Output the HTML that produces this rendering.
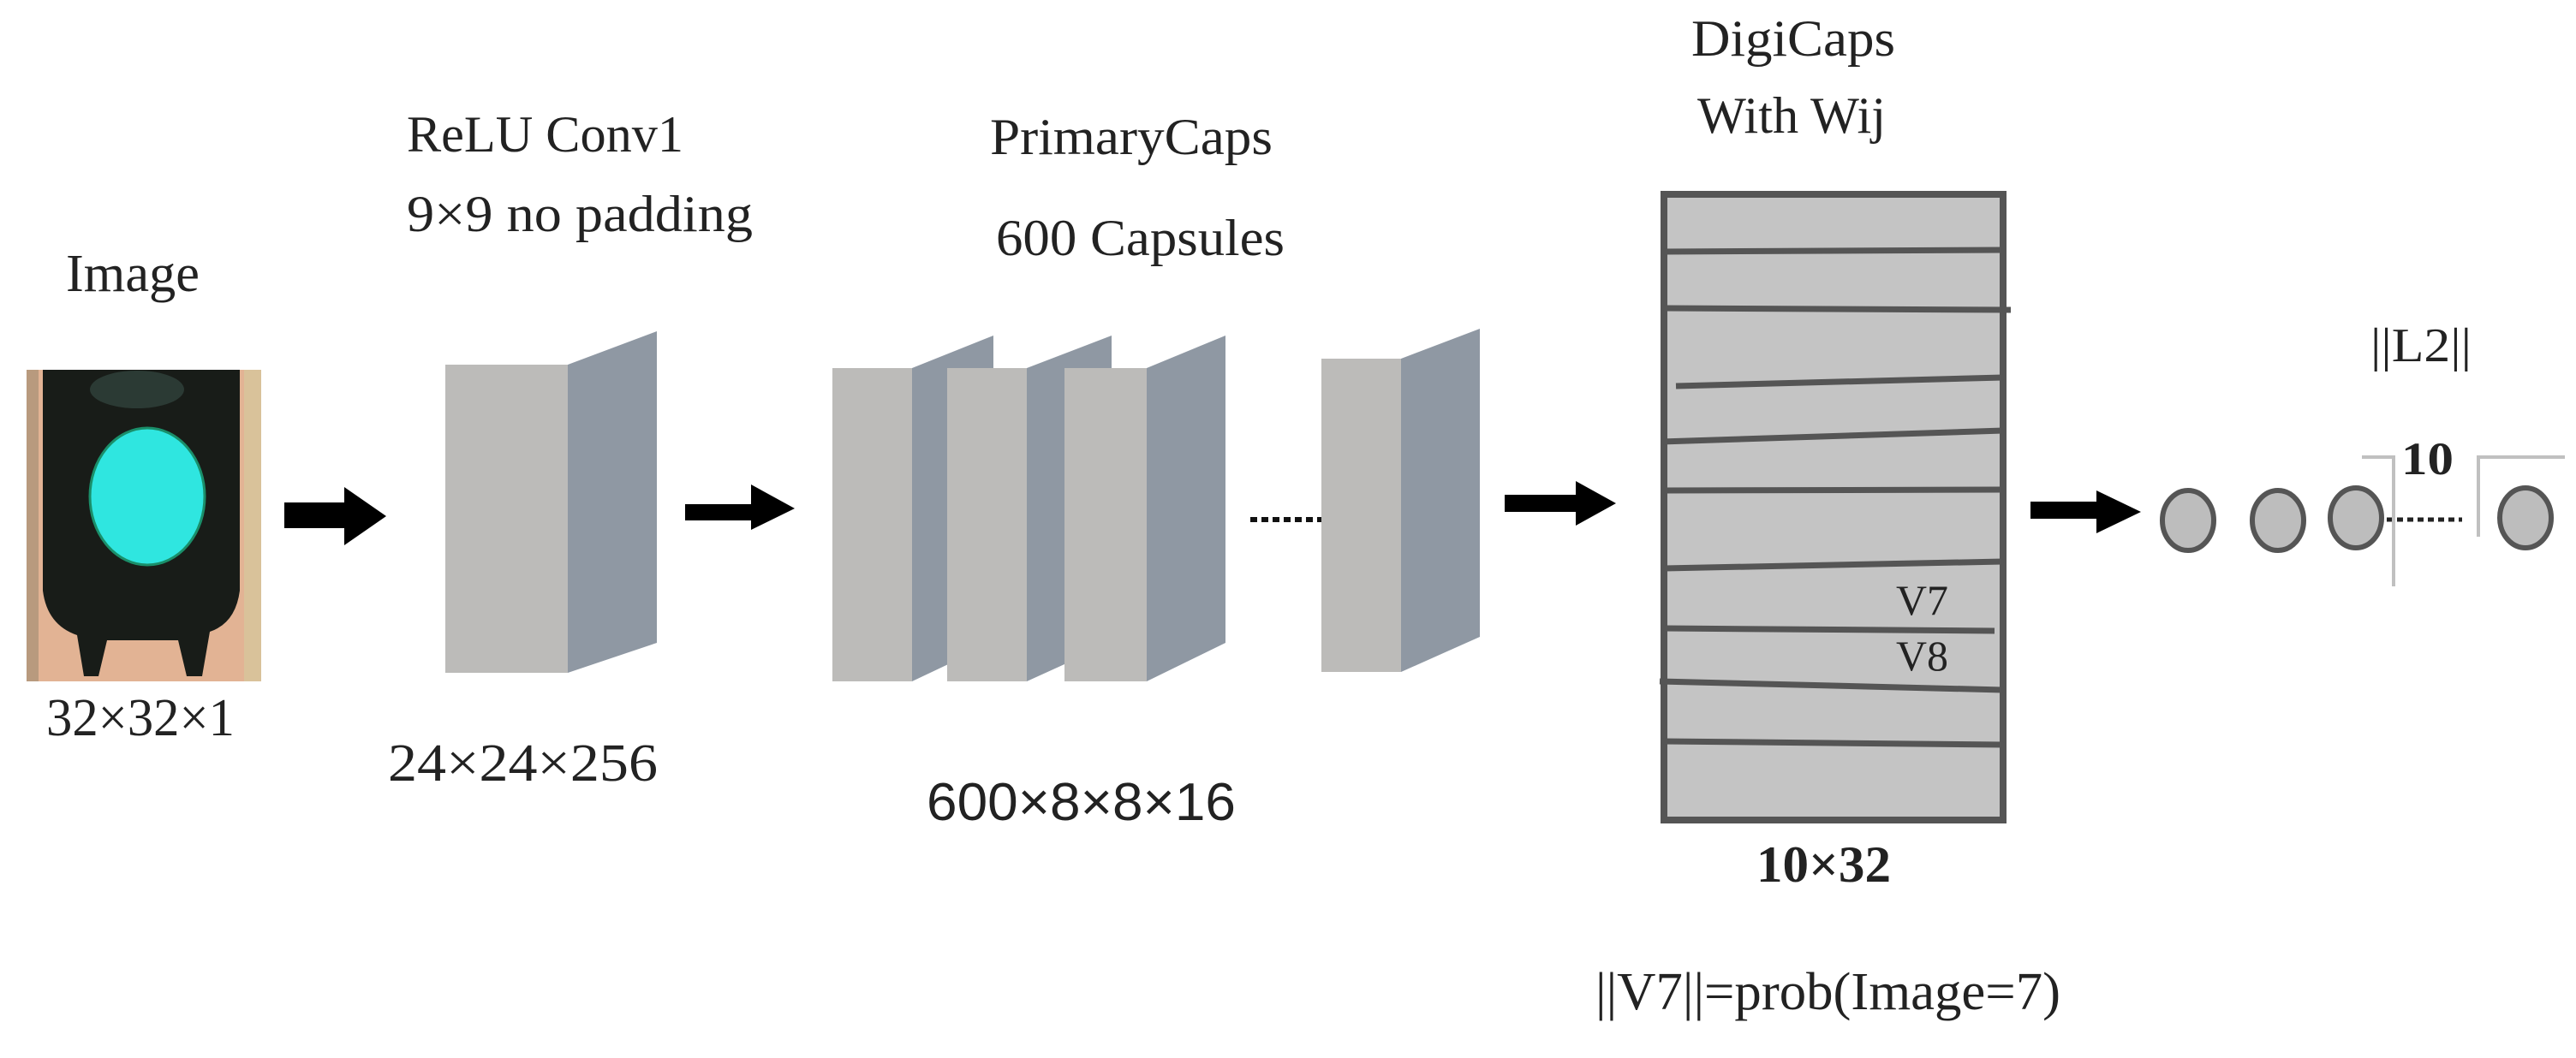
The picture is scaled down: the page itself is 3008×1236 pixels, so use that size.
<!DOCTYPE html>
<html><head><meta charset="utf-8"><style>
html,body{margin:0;padding:0;background:#fff;}
svg{display:block;}
text{font-family:"Liberation Serif",serif;fill:#222;}
</style></head><body>
<svg width="3008" height="1236" viewBox="0 0 3008 1236" xmlns="http://www.w3.org/2000/svg">
<rect width="3008" height="1236" fill="#fff"/>

<!-- Traffic light image -->
<rect x="31" y="432" width="274" height="364" fill="#e2b394"/>
<rect x="31" y="432" width="14" height="364" fill="#b89a7e"/>
<rect x="285" y="432" width="20" height="364" fill="#d9c29a"/>
<path d="M50 432 H280 V690 Q275 728 245 738 L236 790 H218 L208 748 H125 L115 790 H98 L90 742 Q55 730 50 690 Z" fill="#181c18"/>
<ellipse cx="160" cy="455" rx="55" ry="22" fill="#2b3a34"/>
<ellipse cx="172" cy="580" rx="67" ry="80" fill="#2fe6e0"/>
<ellipse cx="172" cy="580" rx="67" ry="80" fill="none" stroke="#1a8f6a" stroke-width="3"/>

<!-- labels -->
<text x="77" y="340" font-size="62" textLength="156" lengthAdjust="spacingAndGlyphs">Image</text>
<text x="54" y="859" font-size="62" textLength="220" lengthAdjust="spacingAndGlyphs">32×32×1</text>
<text x="475" y="177" font-size="60" textLength="323" lengthAdjust="spacingAndGlyphs">ReLU Conv1</text>
<text x="475" y="270" font-size="60" textLength="404" lengthAdjust="spacingAndGlyphs">9×9 no padding</text>
<text x="453" y="912" font-size="62" textLength="315" lengthAdjust="spacingAndGlyphs">24×24×256</text>
<text x="1156" y="180" font-size="60" textLength="330" lengthAdjust="spacingAndGlyphs">PrimaryCaps</text>
<text x="1163" y="298" font-size="60" textLength="337" lengthAdjust="spacingAndGlyphs">600 Capsules</text>
<text x="1082" y="958" font-size="62" style="font-family:'Liberation Sans',sans-serif" textLength="361" lengthAdjust="spacingAndGlyphs">600×8×8×16</text>
<text x="1975" y="65" font-size="60" textLength="238" lengthAdjust="spacingAndGlyphs">DigiCaps</text>
<text x="1982" y="155" font-size="60" textLength="220" lengthAdjust="spacingAndGlyphs">With Wij</text>
<text x="2051" y="1030" font-size="60" font-weight="bold" textLength="157" lengthAdjust="spacingAndGlyphs">10×32</text>
<text x="1863" y="1179" font-size="62" textLength="543" lengthAdjust="spacingAndGlyphs">||V7||=prob(Image=7)</text>
<text x="2768" y="422" font-size="56" textLength="118" lengthAdjust="spacingAndGlyphs">||L2||</text>
<text x="2804" y="554" font-size="54" font-weight="bold" textLength="61" lengthAdjust="spacingAndGlyphs">10</text>

<!-- arrows -->
<g fill="#000">
<polygon points="332,587 402,587 402,569 451,603 402,637 402,617 332,617"/>
<polygon points="800,589 877,589 877,566 928,594 877,619 877,608 800,608"/>
<polygon points="1757,578 1840,578 1840,562 1887,588 1840,614 1840,598 1757,598"/>
<polygon points="2371,586 2448,586 2448,573 2500,598 2448,623 2448,606 2371,606"/>
</g>

<!-- Conv1 block -->
<polygon points="663,426 767,387 767,751 663,786" fill="#8f98a3"/>
<rect x="520" y="426" width="143" height="360" fill="#bcbbb9"/>

<!-- PrimaryCaps blocks -->
<polygon points="1065,430 1160,392 1160,751 1065,796" fill="#8f98a3"/>
<rect x="972" y="430" width="93" height="366" fill="#bcbbb9"/>
<polygon points="1199,430 1298,392 1298,751 1199,796" fill="#8f98a3"/>
<rect x="1106" y="430" width="93" height="366" fill="#bcbbb9"/>
<polygon points="1339,430 1431,392 1431,751 1339,796" fill="#8f98a3"/>
<rect x="1243" y="430" width="96" height="366" fill="#bcbbb9"/>
<line x1="1460" y1="607" x2="1543" y2="607" stroke="#111" stroke-width="6" stroke-dasharray="8,5"/>
<polygon points="1636,419 1728,384 1728,744 1636,785" fill="#8f98a3"/>
<rect x="1543" y="419" width="93" height="366" fill="#bcbbb9"/>

<!-- DigiCaps -->
<rect x="1943" y="227" width="396" height="731" fill="#c4c4c4" stroke="#555" stroke-width="8"/>
<g stroke="#555" stroke-width="7" fill="none">
<line x1="1943" y1="294" x2="2339" y2="292"/>
<line x1="1943" y1="360" x2="2348" y2="362"/>
<line x1="1957" y1="451" x2="2339" y2="441"/>
<line x1="1940" y1="516" x2="2339" y2="503"/>
<line x1="1943" y1="573" x2="2339" y2="572"/>
<line x1="1943" y1="664" x2="2339" y2="656"/>
<line x1="1943" y1="734" x2="2329" y2="737"/>
<line x1="1938" y1="796" x2="2339" y2="806"/>
<line x1="1940" y1="866" x2="2339" y2="870"/>
</g>
<text x="2214" y="718" font-size="50" fill="#333" textLength="61" lengthAdjust="spacingAndGlyphs">V7</text>
<text x="2214" y="783" font-size="50" fill="#333" textLength="61" lengthAdjust="spacingAndGlyphs">V8</text>

<!-- output circles -->
<g fill="#bdbdbd" stroke="#555" stroke-width="6">
<ellipse cx="2555" cy="608" rx="30" ry="35"/>
<ellipse cx="2660" cy="608" rx="30" ry="35"/>
<ellipse cx="2751" cy="605" rx="30" ry="35"/>
<ellipse cx="2949" cy="605" rx="30" ry="35"/>
</g>
<line x1="2787" y1="607" x2="2875" y2="607" stroke="#222" stroke-width="5" stroke-dasharray="7,5"/>
<g stroke="#c0c0c0" stroke-width="4" fill="none">
<polyline points="2758,534 2795,534 2795,685"/>
<polyline points="2894,627 2894,534 2995,534"/>
</g>
</svg>
</body></html>
